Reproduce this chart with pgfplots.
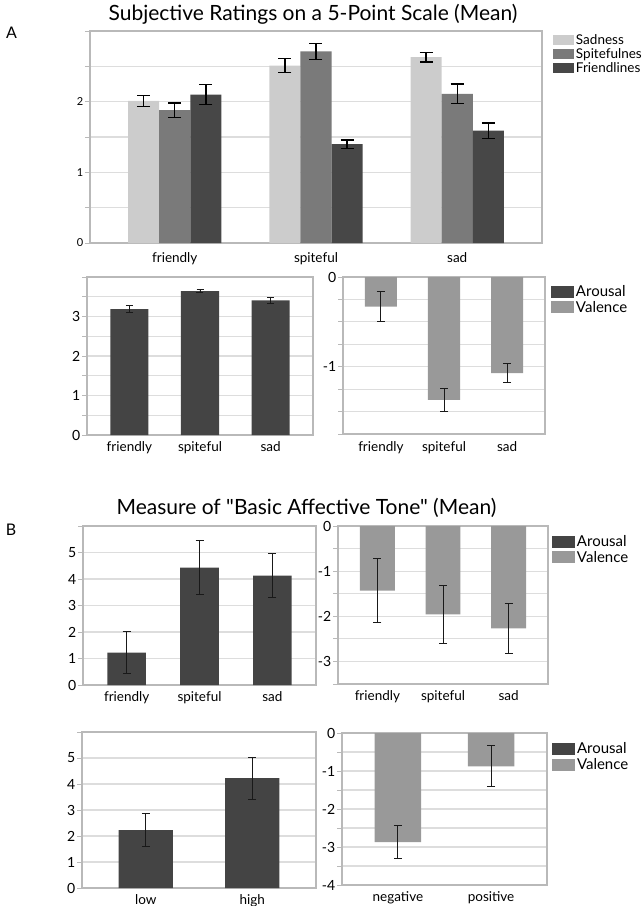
\documentclass[border=0pt]{standalone}
\usepackage{fontspec}
\setmainfont{Lato}
\newfontfamily\titlefont{Lato}[Ligatures=TeXOff]
\usepackage{pgfplots}
\pgfplotsset{compat=1.18}

\definecolor{cSad}{HTML}{CCCCCC}
\definecolor{cSpite}{HTML}{7A7A7A}
\definecolor{cFriend}{HTML}{474747}
\definecolor{cAro}{HTML}{444444}
\definecolor{cVal}{HTML}{999999}
\definecolor{axgray}{HTML}{B9B9B9}
\definecolor{grgray}{HTML}{DDDDDD}

\pgfplotsset{
  panel/.style={
    scale only axis, anchor=north west,
    axis line style={draw=axgray, line width=1.3pt},
    ymajorgrids, major grid style={draw=grgray, line width=1.2pt},
    xtick={0,1,2}, xmin=-0.6, xmax=2.6,
    xtick style={draw=none},
    ytick pos=left, tick align=outside, major tick length=5pt,
    ytick style={draw=axgray, line width=1pt},
    yticklabel style={font=\fontsize{14}{16}\selectfont, inner sep=1.5pt, text=black},
    xticklabel style={font=\fontsize{13.5}{15}\selectfont, inner sep=1pt, text=black},
    legend cell align=left,
    legend style={draw=none, fill=none, inner sep=0pt, outer sep=0pt, anchor=north west,
      font=\fontsize{15}{17}\selectfont, row sep=3.5pt,
      nodes={inner sep=0pt, text height=10.5pt, text depth=1pt},
      /tikz/every odd column/.append style={column sep=2pt}},
    clip=false,
  },
  barA/.style={ybar, bar shift=0pt, draw=none,
    legend image code/.code={\fill[##1] (0pt,-5pt) rectangle (21pt,5pt);},
    error bars/y dir=both, error bars/y explicit,
    error bars/error bar style={black, line width=1.4pt},
    error bars/error mark options={rotate=90, black, line width=1.4pt, mark size=6.5pt}},
  barB/.style={ybar, bar shift=0pt, draw=none,
    legend image code/.code={\fill[##1] (0pt,-6pt) rectangle (23pt,6pt);},
    error bars/y dir=both, error bars/y explicit,
    error bars/error bar style={black!90, line width=0.9pt},
    error bars/error mark options={rotate=90, black!90, line width=0.9pt, mark size=4pt}},
  barC/.style={ybar, bar shift=0pt, draw=none,
    legend image code/.code={\fill[##1] (0pt,-6pt) rectangle (23pt,6pt);},
    error bars/y dir=both, error bars/y explicit,
    error bars/error bar style={black!90, line width=0.9pt},
    error bars/error mark options={rotate=90, black!90, line width=0.9pt, mark size=3.5pt}},
}

\begin{document}
\begin{tikzpicture}
\path[use as bounding box] (0,0) rectangle (641pt,-906pt);

\node[font=\titlefont\fontsize{21}{24}\selectfont] at (313pt,-14pt) {Subjective Ratings on a 5-Point Scale (Mean)};
\node[font=\fontsize{16}{18}\selectfont] at (11.5pt,-32.5pt) {A};
\node[font=\titlefont\fontsize{21}{24}\selectfont] at (306.5pt,-508pt) {Measure of "Basic Affective Tone" (Mean)};
\node[font=\fontsize{16}{18}\selectfont] at (11pt,-530pt) {B};

% ---------- A top ----------
\begin{axis}[panel, at={(90pt,-31pt)}, width=452pt, height=212pt,
  ymin=0, ymax=3, ytick={0,0.5,1,1.5,2,2.5,3}, yticklabels={0,,1,,2,,},
  yticklabel style={font=\fontsize{11}{13}\selectfont},
  xticklabels={friendly,spiteful,sad},
  xticklabel style={yshift=-3pt},
  legend style={at={(1.0243,0.981)}, font=\fontsize{13.5}{15}\selectfont, row sep=3.5pt,
    nodes={text height=9.5pt, text depth=1pt}}]
\addplot[barA, bar width=0.22, fill=cSad] coordinates {(-0.22,2.01) +- (0,0.08) (0.78,2.51) +- (0,0.10) (1.78,2.63) +- (0,0.07)};
\addplot[barA, bar width=0.22, fill=cSpite] coordinates {(0,1.88) +- (0,0.10) (1,2.71) +- (0,0.11) (2,2.11) +- (0,0.14)};
\addplot[barA, bar width=0.22, fill=cFriend] coordinates {(0.22,2.10) +- (0,0.14) (1.22,1.40) +- (0,0.06) (2.22,1.59) +- (0,0.11)};
\legend{Sadness,Spitefulnes,Friendlines}
\end{axis}

% ---------- A bottom left (arousal) ----------
\begin{axis}[panel, at={(87pt,-277pt)}, width=226pt, height=158pt,
  ymin=0, ymax=4, ytick={0,0.5,1,1.5,2,2.5,3,3.5,4}, yticklabels={0,,1,,2,,3,,},
  xticklabels={friendly,spiteful,sad}]
\addplot[barC, bar width=0.54, fill=cAro] coordinates {(0,3.19) +- (0,0.09) (1,3.64) +- (0,0.04) (2,3.41) +- (0,0.08)};
\end{axis}

% ---------- A bottom right (valence) ----------
\begin{axis}[panel, at={(343pt,-277pt)}, width=202pt, height=157pt,
  ymin=-1.75, ymax=0, ytick={-1.75,-1.5,-1.25,-1,-0.75,-0.5,-0.25,0}, yticklabels={,,,-1,,,,0},
  xticklabels={friendly,spiteful,sad},
  xticklabel style={yshift=-1.5pt},
  legend style={at={(1.0297,0.943)}}]
\addlegendimage{barB, fill=cAro}
\addplot[barB, bar width=0.51, fill=cVal] coordinates {(0,-0.33) +- (0,0.17) (1,-1.37) +- (0,0.125) (2,-1.07) +- (0,0.11)};
\legend{Arousal,Valence}
\end{axis}

% ---------- B top left ----------
\begin{axis}[panel, at={(83pt,-526pt)}, width=233pt, height=159pt,
  ymin=0, ymax=6, ytick={0,1,2,3,4,5,6}, yticklabels={0,1,2,3,4,5,},
  xticklabels={friendly,spiteful,sad}]
\addplot[barB, bar width=0.53, fill=cAro] coordinates {(0,1.22) +- (0,0.80) (1,4.43) +- (0,1.02) (2,4.13) +- (0,0.83)};
\end{axis}

% ---------- B top right ----------
\begin{axis}[panel, at={(338pt,-526pt)}, width=210pt, height=158pt,
  ymin=-3.5, ymax=0, ytick={-3.5,-3,-2.5,-2,-1.5,-1,-0.5,0}, yticklabels={,-3,,-2,,-1,,0},
  xticklabels={friendly,spiteful,sad},
  legend style={at={(1.019,0.937)}}]
\addlegendimage{barB, fill=cAro}
\addplot[barB, bar width=0.53, fill=cVal] coordinates {(0,-1.43) +- (0,0.71) (1,-1.96) +- (0,0.65) (2,-2.27) +- (0,0.56)};
\legend{Arousal,Valence}
\end{axis}

% ---------- B bottom left ----------
\begin{axis}[panel, at={(82pt,-732pt)}, width=234pt, height=156pt,
  xmin=-0.6, xmax=1.6, xtick={0,1},
  ymin=0, ymax=6, ytick={0,1,2,3,4,5,6}, yticklabels={0,1,2,3,4,5,},
  xticklabels={low,high}]
\addplot[barB, bar width=0.51, fill=cAro] coordinates {(0,2.23) +- (0,0.65) (1,4.23) +- (0,0.81)};
\end{axis}

% ---------- B bottom right ----------
\begin{axis}[panel, at={(342pt,-733pt)}, width=205pt, height=152pt,
  xmin=-0.6, xmax=1.6, xtick={0,1},
  ymin=-4, ymax=0, ytick={-4,-3.5,-3,-2.5,-2,-1.5,-1,-0.5,0}, yticklabels={-4,,-3,,-2,,-1,,0},
  xticklabels={negative,positive},
  legend style={at={(1.0244,0.934)}}]
\addlegendimage{barB, fill=cAro}
\addplot[barB, bar width=0.5, fill=cVal] coordinates {(0,-2.87) +- (0,0.43) (1,-0.875) +- (0,0.54)};
\legend{Arousal,Valence}
\end{axis}
\end{tikzpicture}
\end{document}
